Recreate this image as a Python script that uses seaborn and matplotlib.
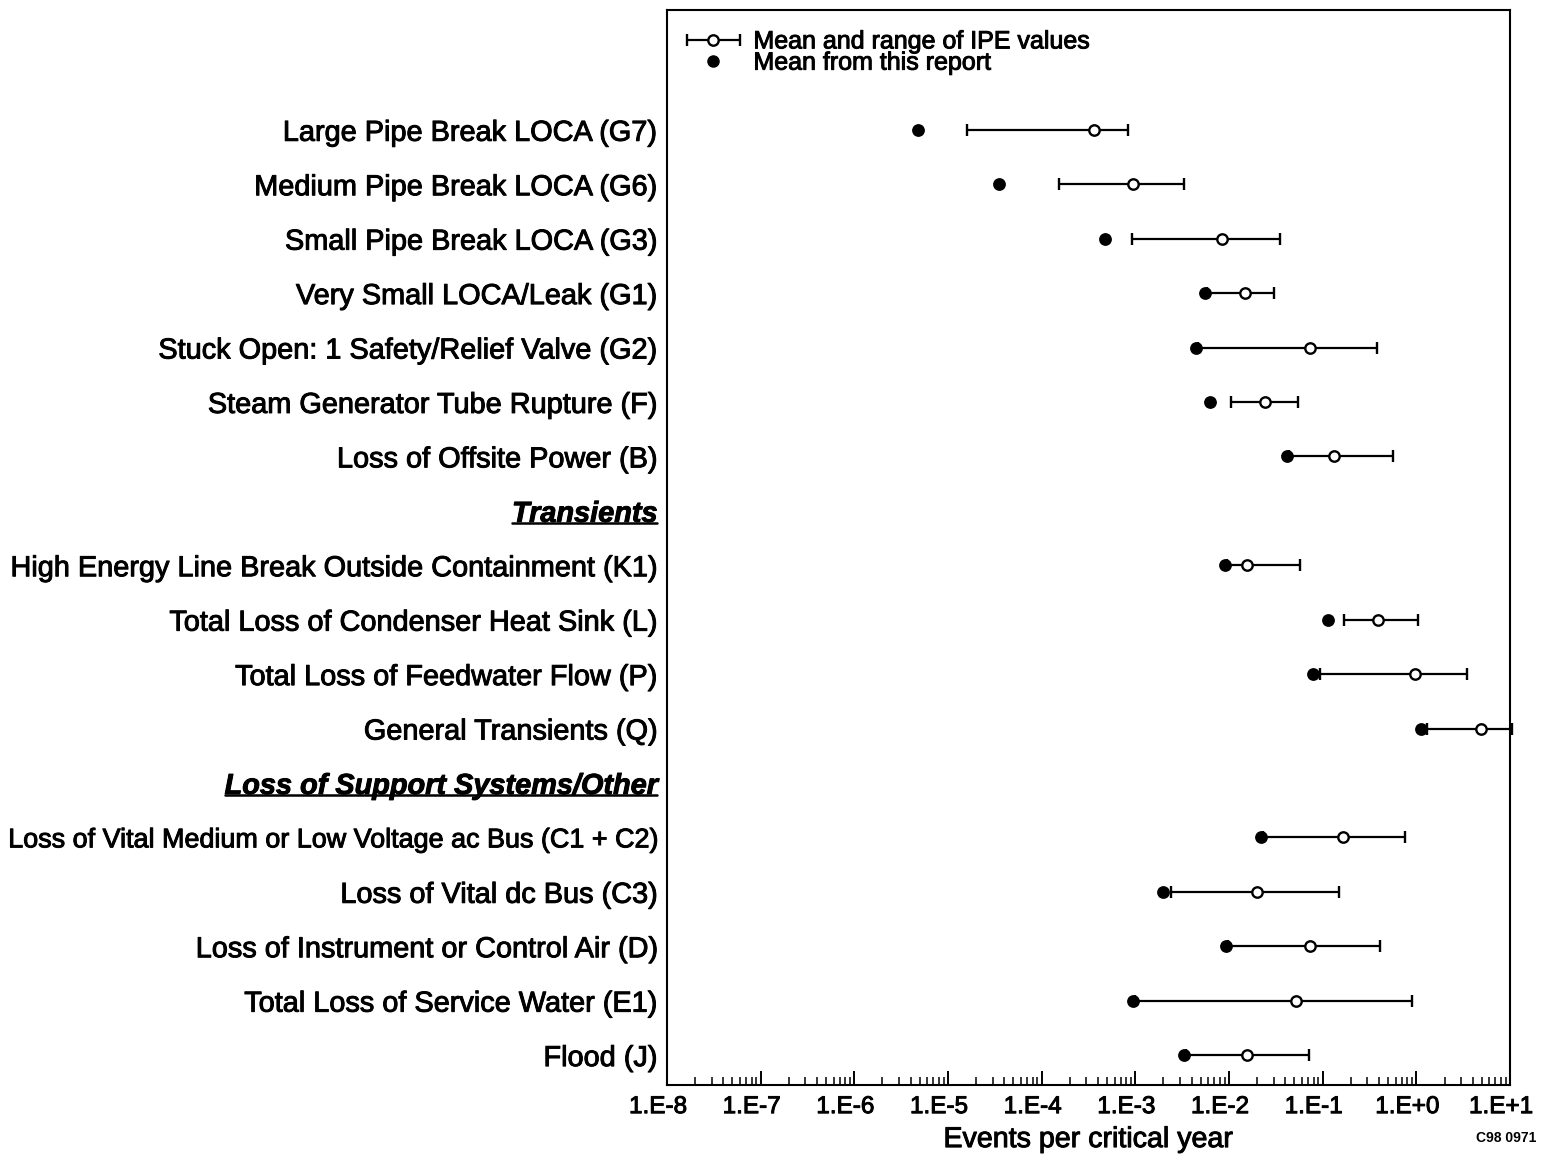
import numpy as np
import pandas as pd
import seaborn as sns
import matplotlib.pyplot as plt
import matplotlib.patheffects as pe
from matplotlib.container import ErrorbarContainer
from matplotlib.legend_handler import HandlerErrorbar
from matplotlib.lines import Line2D
from matplotlib.ticker import LogLocator, FuncFormatter, NullFormatter
from matplotlib.transforms import ScaledTranslation, IdentityTransform

# rows from top to bottom, including the two group headers
ROWS = [
    "Large Pipe Break LOCA (G7)",
    "Medium Pipe Break LOCA (G6)",
    "Small Pipe Break LOCA (G3)",
    "Very Small LOCA/Leak (G1)",
    "Stuck Open: 1 Safety/Relief Valve (G2)",
    "Steam Generator Tube Rupture (F)",
    "Loss of Offsite Power (B)",
    "Transients",
    "High Energy Line Break Outside Containment (K1)",
    "Total Loss of Condenser Heat Sink (L)",
    "Total Loss of Feedwater Flow (P)",
    "General Transients (Q)",
    "Loss of Support Systems/Other",
    "Loss of Vital Medium or Low Voltage ac Bus (C1 + C2)",
    "Loss of Vital dc Bus (C3)",
    "Loss of Instrument or Control Air (D)",
    "Total Loss of Service Water (E1)",
    "Flood (J)",
]
HEADERS = ["Transients", "Loss of Support Systems/Other"]
EVENTS = [r for r in ROWS if r not in HEADERS]

# events per critical year
report_mean = [4.8e-6, 3.55e-5, 4.8e-4, 5.5e-3, 4.4e-3, 6.3e-3, 4.2e-2, 9.1e-3,
               0.114, 0.079, 1.12, 2.2e-2, 2.0e-3, 9.3e-3, 9.5e-4, 3.3e-3]
ipe_low = [1.6e-5, 1.55e-4, 9.3e-4, 5.8e-3, 4.7e-3, 1.05e-2, 4.4e-2, 9.5e-3,
           0.17, 0.093, 1.3, 2.3e-2, 2.4e-3, 9.8e-3, 1.0e-3, 3.5e-3]
ipe_mean = [3.6e-4, 9.4e-4, 8.5e-3, 1.5e-2, 7.4e-2, 2.4e-2, 0.131, 1.56e-2,
            0.39, 0.98, 4.9, 0.165, 2.0e-2, 7.4e-2, 5.2e-2, 1.57e-2]
ipe_high = [8.3e-4, 3.3e-3, 3.5e-2, 3.0e-2, 0.38, 5.5e-2, 0.57, 5.7e-2,
            1.05, 3.5, 10.5, 0.76, 0.148, 0.41, 0.89, 7.1e-2]

sns.set_theme(style="white")
plt.rcParams["font.family"] = ["Liberation Sans", "DejaVu Sans"]
plt.rcParams["text.color"] = "black"
plt.rcParams["axes.labelcolor"] = "black"
plt.rcParams["xtick.color"] = "black"
plt.rcParams["ytick.color"] = "black"

heavy = [pe.withStroke(linewidth=0.7, foreground="black")]

df = pd.DataFrame({
    "event": EVENTS,
    "report": report_mean,
    "low": ipe_low,
    "mean": ipe_mean,
    "high": ipe_high,
})
df["pos"] = [ROWS.index(e) for e in EVENTS]

fig = plt.figure(figsize=(15.46, 11.56), dpi=100)
ax = fig.add_axes([0.4314, 0.0614, 0.5453, 0.9299])

eb = ax.errorbar(
    df["mean"], df["pos"],
    xerr=[df["mean"] - df["low"], df["high"] - df["mean"]],
    fmt="o", color="black", mfc="white", mec="black", ms=7.5, mew=1.7,
    elinewidth=1.6, capsize=4.5, capthick=1.6, zorder=3,
)
for art in eb.get_children():
    art.set_clip_on(False)

sns.scatterplot(data=df, x="report", y="pos", color="black", s=85,
                linewidth=0, zorder=4, ax=ax, legend=False)

ax.set_xscale("log")
ax.set_xlim(1e-8, 1e1)
ax.set_ylim(len(ROWS) - 0.45, -2.2)

ax.xaxis.set_major_locator(LogLocator(base=10, numticks=20))
ax.xaxis.set_minor_locator(LogLocator(base=10, subs=np.arange(2, 10), numticks=20))
ax.xaxis.set_major_formatter(FuncFormatter(lambda v, p: f"1.E{int(round(np.log10(v))):+d}"))
ax.xaxis.set_minor_formatter(NullFormatter())

ax.tick_params(axis="x", which="major", direction="in", length=10, width=1.4,
               bottom=True, top=False, labelsize=17.5, pad=8)
ax.tick_params(axis="x", which="minor", direction="in", length=5.5, width=1.1,
               bottom=True, top=False)
ax.tick_params(axis="y", length=0, pad=7, labelsize=20.8)

ax.set_yticks(range(len(ROWS)))
ax.set_yticklabels(ROWS)
for lbl in ax.get_yticklabels():
    lbl.set_path_effects(heavy)
    if lbl.get_text() in HEADERS:
        lbl.set_fontweight("bold")
        lbl.set_fontstyle("italic")
    if "C1 + C2" in lbl.get_text():
        lbl.set_fontsize(19.4)

ax.set_xlabel("Events per critical year", fontsize=20.6, labelpad=5,
              path_effects=heavy)
ax.set_ylabel("")

for sp in ax.spines.values():
    sp.set_visible(True)
    sp.set_color("black")
    sp.set_linewidth(1.5)

dot_handle = Line2D([], [], marker="o", ls="none", color="black", ms=8)
leg = ax.legend(
    [eb, dot_handle],
    ["Mean and range of IPE values", "Mean from this report"],
    loc="upper left", bbox_to_anchor=(0.0225, 0.982), frameon=False,
    fontsize=18, handlelength=2.2, handletextpad=0.5, labelspacing=-0.11,
    borderpad=0, borderaxespad=0,
    handler_map={ErrorbarContainer: HandlerErrorbar(xerr_size=1.05)},
)
for t in leg.get_texts():
    t.set_path_effects(heavy)

fig.text(0.994, 1 - 1138 / 1156, "C98 0971", ha="right", va="center",
         fontsize=10, fontweight="bold")

fig.canvas.draw()
renderer = fig.canvas.get_renderer()

# tick labels sit a little left of their ticks in the original
shift = ScaledTranslation(-9 / 100, 0, fig.dpi_scale_trans)
for lbl in ax.get_xticklabels():
    lbl.set_transform(lbl.get_transform() + shift)
    lbl.set_path_effects(heavy)

# underline the group headers
for lbl in ax.get_yticklabels():
    if lbl.get_text() in HEADERS:
        bb = lbl.get_window_extent(renderer)
        y = bb.y0 + 5
        fig.add_artist(Line2D([bb.x0, bb.x1], [y, y], transform=IdentityTransform(),
                              color="black", lw=1.8))

fig.savefig("out.png", dpi=100)
